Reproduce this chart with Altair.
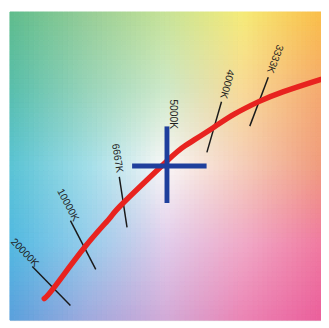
import altair as alt
import pandas as pd
import numpy as np

# --- Planckian locus (chromaticity-like coordinates) ---
locus_x = [0.2515, 0.2547, 0.2652, 0.2734, 0.2780, 0.2927, 0.2989, 0.3081, 0.3153, 0.3235, 0.3316, 0.3444, 0.3496]
locus_y = [0.2526, 0.2562, 0.2700, 0.2795, 0.2847, 0.2988, 0.3040, 0.3099, 0.3145, 0.3187, 0.3220, 0.3262, 0.3278]

# --- isotherm tick lines ---
iso_names = ["20000K", "10000K", "6667K", "4000K", "3333K"]
iso_x1 = [0.2475, 0.2603, 0.2767, 0.3110, 0.3267]
iso_y1 = [0.2634, 0.2788, 0.2935, 0.3187, 0.3269]
iso_x2 = [0.2603, 0.2688, 0.2793, 0.3061, 0.3205]
iso_y2 = [0.2503, 0.2624, 0.2765, 0.3017, 0.3105]

# --- labels ---
label_text = ["20000K", "10000K", "6667K", "5000K", "4000K", "3333K"]
label_x = [0.2449, 0.2594, 0.2760, 0.2948, 0.3128, 0.3289]
label_y = [0.2680, 0.2840, 0.2997, 0.3145, 0.3246, 0.3331]
label_angle = [46, 62, 81, 90, 105, 110]

# --- white point cross (5000K) ---
wp_x, wp_y = 0.2927, 0.2971
cross_h = [0.2810, 0.3060]
cross_v = [0.2847, 0.3104]

X_DOM = [0.24, 0.3444]
Y_DOM = [0.2454, 0.3488]

# --- background colour control grid (rows top->bottom, cols left->right) ---
bg_rows = [
    [(95, 188, 140), (150, 205, 150), (198, 226, 150), (245, 235, 120), (250, 190, 72)],
    [(88, 190, 172), (152, 212, 185), (205, 232, 200), (248, 218, 150), (245, 170, 110)],
    [(90, 195, 212), (162, 222, 232), (250, 248, 248), (245, 205, 185), (240, 155, 125)],
    [(82, 185, 225), (150, 205, 235), (225, 205, 235), (240, 170, 200), (240, 122, 160)],
    [(90, 160, 220), (160, 170, 222), (210, 170, 215), (235, 132, 180), (235, 95, 155)],
]

ctrl = np.array(bg_rows, dtype=float)  # 5x5x3
n = 64
cells = []
for i in range(n):
    for j in range(n):
        fy = (i + 0.5) / n * 4
        fx = (j + 0.5) / n * 4
        r0 = min(int(fy), 3); c0 = min(int(fx), 3)
        ty = fy - r0; tx = fx - c0
        c = (ctrl[r0, c0] * (1 - tx) * (1 - ty) + ctrl[r0, c0 + 1] * tx * (1 - ty)
             + ctrl[r0 + 1, c0] * (1 - tx) * ty + ctrl[r0 + 1, c0 + 1] * tx * ty)
        col = "#%02x%02x%02x" % tuple(int(round(v)) for v in c)
        xa = X_DOM[0] + (X_DOM[1] - X_DOM[0]) * j / n
        xb = X_DOM[0] + (X_DOM[1] - X_DOM[0]) * (j + 1) / n
        ya = Y_DOM[1] - (Y_DOM[1] - Y_DOM[0]) * i / n
        yb = Y_DOM[1] - (Y_DOM[1] - Y_DOM[0]) * (i + 1) / n
        cells.append({"x": xa, "x2": xb, "y": ya, "y2": yb, "c": col})
bg_df = pd.DataFrame(cells)

xs = alt.Scale(domain=X_DOM, nice=False, zero=False)
ys = alt.Scale(domain=Y_DOM, nice=False, zero=False)

bg = alt.Chart(bg_df).mark_rect(strokeWidth=1).encode(
    x=alt.X("x:Q", scale=xs, axis=None),
    x2="x2:Q",
    y=alt.Y("y:Q", scale=ys, axis=None),
    y2="y2:Q",
    color=alt.Color("c:N", scale=None),
    stroke=alt.Stroke("c:N", scale=None),
)

iso_df = pd.DataFrame({"name": iso_names, "x": iso_x1, "y": iso_y1, "x2": iso_x2, "y2": iso_y2})
iso = alt.Chart(iso_df).mark_rule(color="#1a1a1a", strokeWidth=1.5).encode(
    x=alt.X("x:Q", scale=xs, axis=None), y=alt.Y("y:Q", scale=ys, axis=None), x2="x2:Q", y2="y2:Q"
)

locus_df = pd.DataFrame({"x": locus_x, "y": locus_y, "o": list(range(len(locus_x)))})
locus = alt.Chart(locus_df).mark_line(color="#e8231f", strokeWidth=5.5, interpolate="natural", clip=True, strokeCap="round").encode(
    x=alt.X("x:Q", scale=xs, axis=None), y=alt.Y("y:Q", scale=ys, axis=None), order="o:Q"
)

cross_df = pd.DataFrame({
    "x": [cross_h[0], wp_x], "x2": [cross_h[1], wp_x],
    "y": [wp_y, cross_v[0]], "y2": [wp_y, cross_v[1]],
})
cross = alt.Chart(cross_df).mark_rule(color="#1f3f9c", strokeWidth=5).encode(
    x=alt.X("x:Q", scale=xs, axis=None), y=alt.Y("y:Q", scale=ys, axis=None), x2="x2:Q", y2="y2:Q"
)

lab_layers = []
for t, lx, ly, a in zip(label_text, label_x, label_y, label_angle):
    d = pd.DataFrame({"t": [t], "x": [lx], "y": [ly]})
    lab_layers.append(
        alt.Chart(d).mark_text(angle=a, fontSize=10.5, font="Liberation Sans", color="#1e1e1e",
                               align="center", baseline="middle").encode(
            x=alt.X("x:Q", scale=xs, axis=None), y=alt.Y("y:Q", scale=ys, axis=None), text="t:N"
        )
    )

chart = alt.layer(bg, iso, locus, cross, *lab_layers).properties(
    width=319, height=316, autosize="none",
    padding={"left": 2, "top": 0, "right": 0, "bottom": 4},
).configure_view(strokeWidth=0).configure(background="white")

chart.save("out.html", embed_options={"renderer": "svg", "actions": False})
